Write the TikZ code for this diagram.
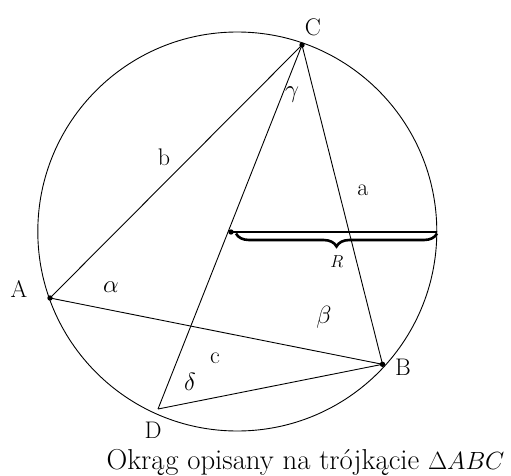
\documentclass[tikz,border=0pt]{standalone}
\usepackage{fontspec}
\usetikzlibrary{decorations.pathreplacing}
\tikzset{
  lbl/.style={font=\fontsize{24}{29}\selectfont, inner sep=0pt},
  seg/.style={line width=0.9pt},
}
\begin{document}
\begin{tikzpicture}[x=1pt,y=-1pt]
\useasboundingbox (0,0) rectangle (511,476);
% circle
\coordinate (M) at (237.3,231.5);
\draw[line width=0.9pt] (M) circle (199.5);
% points
\coordinate (A) at (50,298);
\coordinate (B) at (382.5,364.3);
\coordinate (C) at (302,45);
\coordinate (D) at (158,409);
\coordinate (O) at (231,232);
\coordinate (E) at (437,232);
\coordinate (P) at (236,233.5);
\coordinate (Q) at (437,233.5);
% segments
\draw[seg] (A) -- (C);
\draw[seg] (A) -- (B);
\draw[seg] (C) -- (B);
\draw[seg] (C) -- (D);
\draw[seg] (D) -- (B);
% radius and brace
\draw[line width=1.5pt] (O) -- (E);
\draw[decorate, decoration={brace, mirror, amplitude=13pt}, line width=2.6pt] (P) -- (Q);
% dots
\foreach \p in {A,B,C,O} \fill (\p) circle (2.7);
% labels
\node[lbl] (lC) at (313,27) {C};
\node[lbl] (lA) at (19,289) {A};
\node[lbl] (lB) at (403,367) {B};
\node[lbl] (lD) at (153,430) {D};
\node[lbl] (la) at (363,190) {a};
\node[lbl] (lb) at (164,157) {b};
\node[lbl] (lc) at (215,358) {c};
\node[lbl] (lal) at (111,287) {$\alpha$};
\node[lbl] (lbe) at (324,317) {$\beta$};
\node[lbl] (lga) at (292,95) {$\gamma$};
\node[lbl] (lde) at (190,382) {$\delta$};
\node[font=\fontsize{17}{20}\selectfont, inner sep=0pt] (lR) at (337,262) {$R$};
\node[font=\fontsize{28.8}{34}\selectfont, inner sep=0pt, anchor=base] (cap) at (305.5,469) {Okrąg opisany na trójkącie $\Delta ABC$};
\end{tikzpicture}
\end{document}
